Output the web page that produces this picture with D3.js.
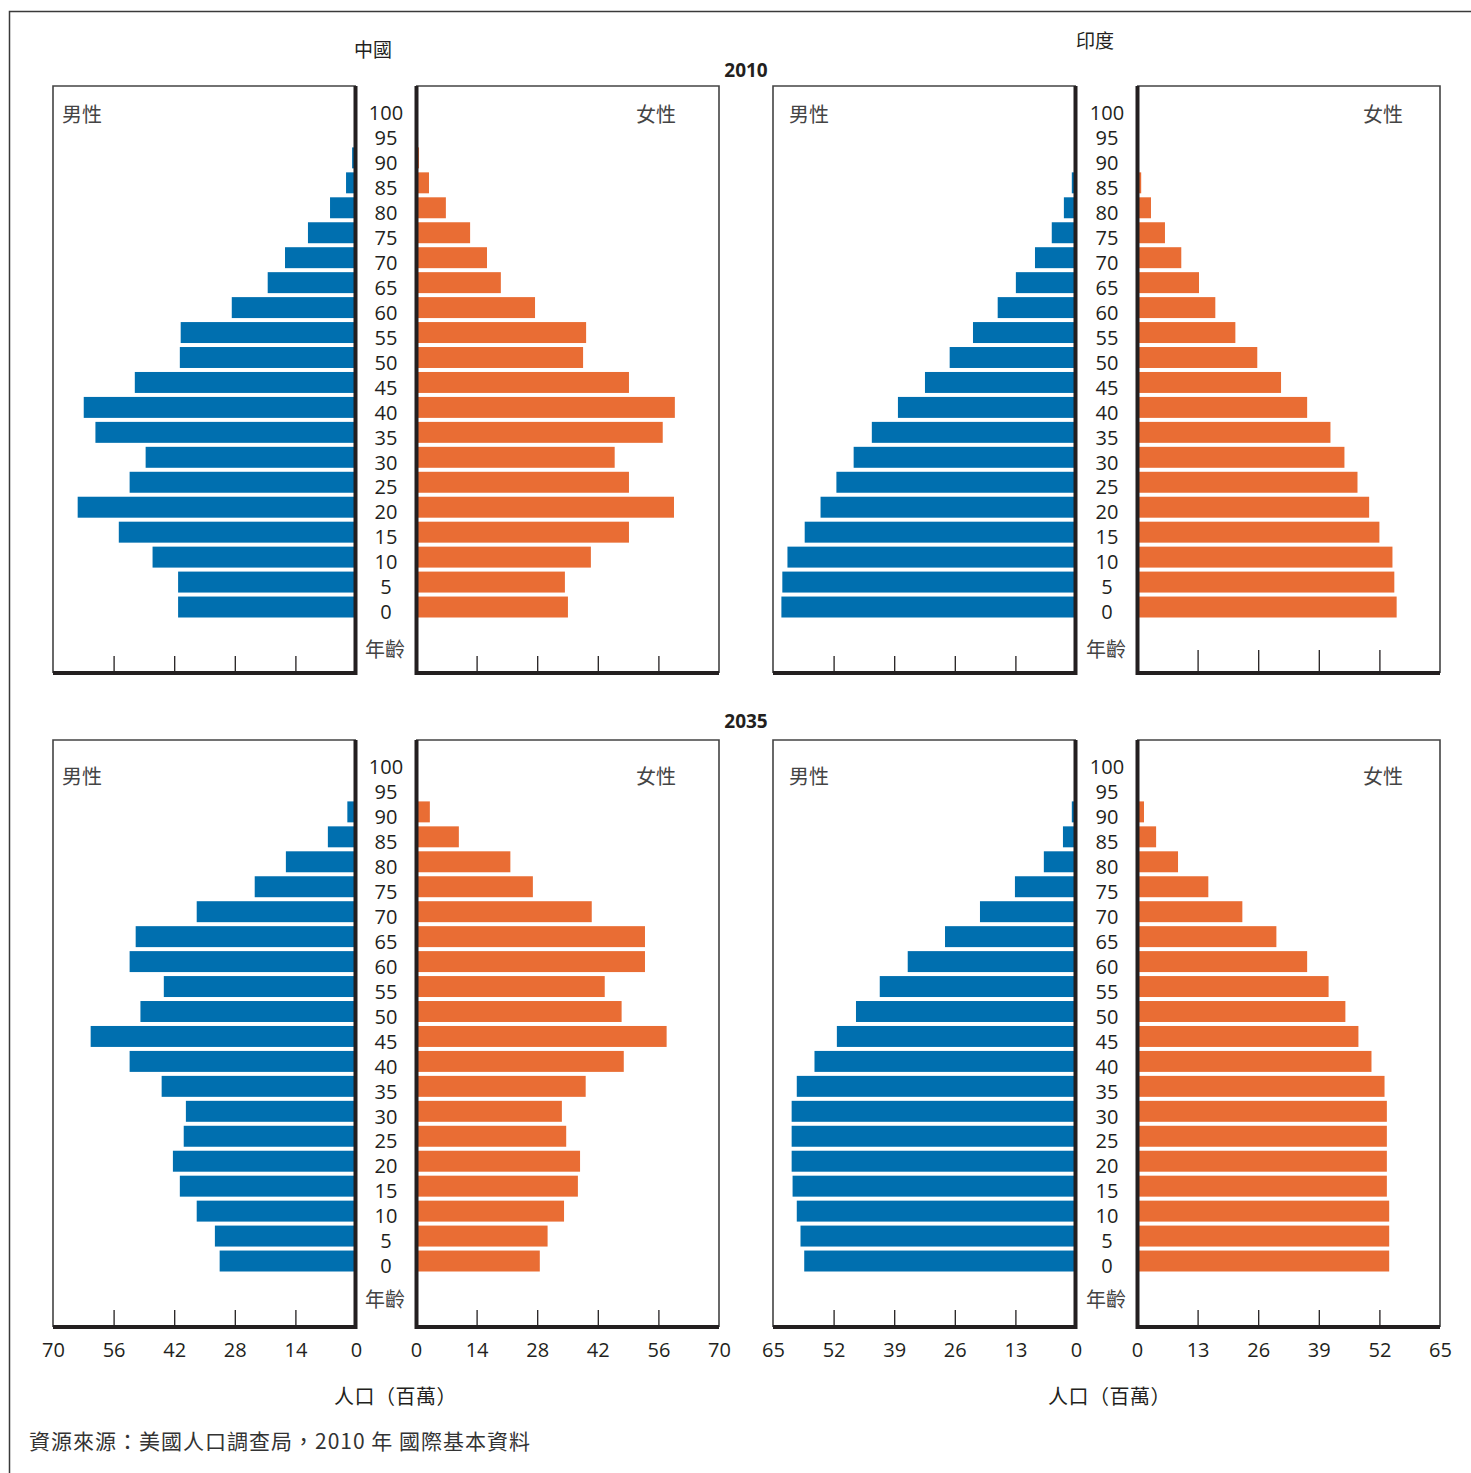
<!DOCTYPE html>
<html lang="zh-Hant">
<head>
<meta charset="utf-8">
<title>中國與印度人口金字塔 2010 / 2035</title>
<script src="https://cdn.jsdelivr.net/npm/d3@7"></script>
<style>
  body { margin: 0; background: #fff; }
  text { font-family: "Open Sans", "Noto Sans CJK TC", sans-serif; fill: #231f20; }
  .cjk { font-family: "Noto Sans CJK TC", sans-serif; }
</style>
</head>
<body>
<script>
// age groups, top to bottom
var ages = [100, 95, 90, 85, 80, 75, 70, 65, 60, 55, 50, 45, 40, 35, 30, 25, 20, 15, 10, 5, 0];

// population in millions, same order as ages
var chinaMale2010   = [0, 0, 0.9, 2.3, 6.0, 11.1, 16.4, 20.4, 28.7, 40.5, 40.7, 51.1, 62.9, 60.2, 48.6, 52.3, 64.3, 54.8, 47.0, 41.1, 41.1];
var chinaFemale2010 = [0, 0, 0.7, 3.0, 6.9, 12.5, 16.4, 19.6, 27.5, 39.3, 38.6, 49.2, 59.8, 57.0, 45.9, 49.2, 59.6, 49.2, 40.4, 34.4, 35.1];
var indiaMale2010   = [0, 0, 0, 0.9, 2.6, 5.2, 8.8, 12.9, 16.8, 22.1, 27.1, 32.4, 38.2, 43.8, 47.7, 51.4, 54.8, 58.2, 61.9, 63.0, 63.2];
var indiaFemale2010 = [0, 0, 0, 0.9, 3.0, 6.0, 9.5, 13.3, 16.8, 21.1, 25.8, 30.9, 36.5, 41.5, 44.5, 47.3, 49.8, 52.0, 54.8, 55.2, 55.7];
var chinaMale2035   = [0, 0, 2.0, 6.5, 16.2, 23.4, 36.8, 50.9, 52.3, 44.4, 49.8, 61.3, 52.3, 44.9, 39.3, 39.8, 42.3, 40.7, 36.8, 32.6, 31.5];
var chinaFemale2035 = [0, 0.3, 3.2, 9.9, 21.8, 27.0, 40.6, 52.9, 52.9, 43.6, 47.5, 57.9, 48.0, 39.2, 33.7, 34.7, 37.9, 37.4, 34.2, 30.4, 28.6];
var indiaMale2035   = [0, 0, 0.9, 2.8, 6.9, 13.1, 20.6, 28.1, 36.1, 42.1, 47.2, 51.3, 56.1, 59.9, 61.0, 61.0, 61.0, 60.8, 59.9, 59.1, 58.3];
var indiaFemale2035 = [0, 0, 1.5, 4.1, 8.8, 15.3, 22.6, 29.9, 36.5, 41.1, 44.7, 47.5, 50.3, 53.1, 53.6, 53.6, 53.6, 53.6, 54.1, 54.1, 54.1];

var chinaTicks = [0, 14, 28, 42, 56, 70];
var indiaTicks = [0, 13, 26, 39, 52, 65];

var blue = "#006faf";
var orange = "#e96d34";

var w = 1471, h = 1473;
var svg = d3.select("body").append("svg").attr("width", w).attr("height", h);

// outer frame (top and left only)
svg.append("path")
   .attr("d", "M9.5,1473V11.5H1471")
   .attr("fill", "none").attr("stroke", "#3a3a3a").attr("stroke-width", 1.5);

// rows: top of each box, bottom of each box, centre of the "100" label
var rows = [
  { top: 86, bottom: 673, y0: 113, sexY: 29, ageY: 23, data: [chinaMale2010, chinaFemale2010, indiaMale2010, indiaFemale2010], labels: false },
  { top: 740, bottom: 1327, y0: 767, sexY: 37, ageY: 27, data: [chinaMale2035, chinaFemale2035, indiaMale2035, indiaFemale2035], labels: true }
];

// countries: panel edges
var countries = [
  { ticks: chinaTicks, max: 70, lOuter: 53, lInner: 356, rInner: 416, rOuter: 719, mid: 386, mPad: 9, fPad: 43, popX: 334 },
  { ticks: indiaTicks, max: 65, lOuter: 773, lInner: 1076, rInner: 1137, rOuter: 1440, mid: 1107, mPad: 16, fPad: 37, popX: 1048 }
];

rows.forEach(function(row, ri) {
  // labels sit on this scale; bars are lifted a few pixels above them
  var y = d3.scaleBand()
            .domain(ages)
            .range([row.y0 - 12.5, row.y0 + 20 * 24.95 + 12.5])
            .paddingInner(0.16)
            .paddingOuter(0.08);
  var lift = 5;

  countries.forEach(function(c, ci) {
    var xl = d3.scaleLinear().domain([0, c.max]).range([c.lInner, c.lOuter]);
    var xr = d3.scaleLinear().domain([0, c.max]).range([c.rInner, c.rOuter]);
    var male = row.data[ci * 2], female = row.data[ci * 2 + 1];

    // male bars
    svg.append("g").selectAll("rect")
       .data(ages.map(function(a, i) { return { age: a, v: male[i] }; }))
       .enter().append("rect")
       .attr("x", function(d) { return xl(d.v); })
       .attr("y", function(d) { return y(d.age) - lift; })
       .attr("width", function(d) { return xl(0) - xl(d.v); })
       .attr("height", y.bandwidth())
       .attr("fill", blue);

    // female bars
    svg.append("g").selectAll("rect")
       .data(ages.map(function(a, i) { return { age: a, v: female[i] }; }))
       .enter().append("rect")
       .attr("x", xr(0))
       .attr("y", function(d) { return y(d.age) - lift; })
       .attr("width", function(d) { return xr(d.v) - xr(0); })
       .attr("height", y.bandwidth())
       .attr("fill", orange);

    // inner ticks
    var inner = c.ticks.slice(1, -1);
    var tlen = (ri == 0 && ci == 1) ? 23 : 17;
    [[xl, 17], [xr, tlen]].forEach(function(p) {
      var g = svg.append("g")
                 .attr("transform", "translate(0," + row.bottom + ")")
                 .call(d3.axisBottom(p[0]).tickValues(inner).tickSize(-p[1]).tickFormat(""));
      g.select(".domain").remove();
      g.selectAll("line").attr("stroke", "#231f20").attr("stroke-width", 1.3);
    });

    // frames: thin outer, bold inner + bottom
    svg.append("path")
       .attr("d", "M" + c.lInner + "," + row.top + "H" + c.lOuter + "V" + row.bottom)
       .attr("fill", "none").attr("stroke", "#444").attr("stroke-width", 1.6);
    svg.append("path")
       .attr("d", "M" + c.rInner + "," + row.top + "H" + c.rOuter + "V" + row.bottom)
       .attr("fill", "none").attr("stroke", "#444").attr("stroke-width", 1.6);
    svg.append("path")
       .attr("d", "M" + (c.lInner - 0.5) + "," + row.top + "V" + row.bottom + "H" + c.lOuter)
       .attr("fill", "none").attr("stroke", "#231f20").attr("stroke-width", 4);
    svg.append("path")
       .attr("d", "M" + (c.rInner + 0.5) + "," + row.top + "V" + row.bottom + "H" + c.rOuter)
       .attr("fill", "none").attr("stroke", "#231f20").attr("stroke-width", 4);

    // age labels
    svg.append("g").selectAll("text")
       .data(ages).enter().append("text")
       .attr("x", c.mid)
       .attr("y", function(d) { return y(d) + y.bandwidth() / 2; })
       .attr("dy", "0.36em")
       .attr("text-anchor", "middle")
       .style("font-size", "20px")
       .text(function(d) { return d; });

    svg.append("text").attr("class", "cjk")
       .attr("x", c.mid - 1).attr("y", row.bottom - row.ageY)
       .attr("dy", "0.36em").attr("text-anchor", "middle")
       .style("font-size", "20px").style("fill", "#444")
       .text("年齡");

    svg.append("text").attr("class", "cjk")
       .attr("x", c.lOuter + c.mPad).attr("y", row.top + row.sexY)
       .attr("dy", "0.36em")
       .style("font-size", "20px").style("fill", "#444")
       .text("男性");
    svg.append("text").attr("class", "cjk")
       .attr("x", c.rOuter - c.fPad).attr("y", row.top + row.sexY)
       .attr("dy", "0.36em").attr("text-anchor", "end")
       .style("font-size", "20px").style("fill", "#444")
       .text("女性");

    // tick labels on the bottom row
    if (row.labels) {
      [xl, xr].forEach(function(sc) {
        var g = svg.append("g")
                   .attr("transform", "translate(0," + row.bottom + ")")
                   .call(d3.axisBottom(sc).tickValues(c.ticks).tickSize(0).tickPadding(16));
        g.select(".domain").remove();
        g.selectAll("text").style("font-size", "20px").style("fill", "#231f20")
         .style("font-family", "'Open Sans', sans-serif");
      });
      svg.append("text").attr("class", "cjk")
         .attr("x", c.popX).attr("y", 1397)
         .attr("dy", "0.36em")
         .style("font-size", "20px").style("letter-spacing", "0.5px")
         .text("人口（百萬）");
    }
  });
});

// titles
svg.append("text").attr("class", "cjk").attr("x", 373).attr("y", 50).attr("dy", "0.36em")
   .attr("text-anchor", "middle").style("font-size", "19px").text("中國");
svg.append("text").attr("class", "cjk").attr("x", 1095).attr("y", 41).attr("dy", "0.36em")
   .attr("text-anchor", "middle").style("font-size", "19px").text("印度");
svg.append("text").attr("x", 746).attr("y", 70).attr("dy", "0.36em")
   .attr("text-anchor", "middle").style("font-size", "19px").style("font-weight", "bold").text("2010");
svg.append("text").attr("x", 746).attr("y", 721).attr("dy", "0.36em")
   .attr("text-anchor", "middle").style("font-size", "19px").style("font-weight", "bold").text("2035");

// source note
svg.append("text").attr("class", "cjk").attr("x", 29).attr("y", 1441).attr("dy", "0.36em")
   .style("font-size", "21px").style("letter-spacing", "1px").style("fill", "#333")
   .text("資源來源：美國人口調查局，2010 年 國際基本資料");
</script>
</body>
</html>
